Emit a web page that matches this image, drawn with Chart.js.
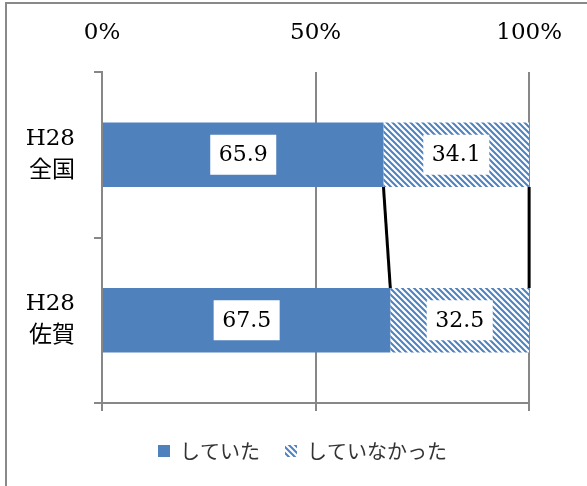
<!DOCTYPE html>
<html>
<head>
<meta charset="utf-8">
<script src="https://cdn.jsdelivr.net/npm/chart.js@4/dist/chart.umd.min.js"></script>
<style>
	body { margin: 0; background: #fff; }
	#wrap { position: relative; width: 587px; height: 486px; overflow: hidden; }
	#frame {
		position: absolute; left: 5px; top: 2px; width: 700px; height: 700px;
		border-left: 2px solid #898989; border-top: 2px solid #898989;
	}
	#myChart { position: absolute; left: 0; top: 0; }
</style>
</head>
<body>
<div id="wrap">
	<div id="frame"></div>
	<canvas id="myChart" width="587" height="486"></canvas>
</div>
<script>
const categories = [["H28", "全国"], ["H28", "佐賀"]];
const seriesNames = ["していた", "していなかった"];
const didValues = [65.9, 67.5];
const didNotValues = [34.1, 32.5];
const tickStep = 50;

const blue = "#4F81BD";
const gray = "#878787";
const serif = "'DejaVu Serif', 'Noto Sans CJK JP', serif";

const makeHatch = function () {
	const c = document.createElement("canvas");
	c.width = 6;
	c.height = 6;
	const g = c.getContext("2d");
	g.fillStyle = "#fff";
	g.fillRect(0, 0, 6, 6);
	g.strokeStyle = blue;
	g.lineWidth = 2;
	g.beginPath();
	g.moveTo(-3, 3); g.lineTo(3, 9);
	g.moveTo(0, 0); g.lineTo(6, 6);
	g.moveTo(3, -3); g.lineTo(9, 3);
	g.stroke();
	return g.createPattern(c, "repeat");
};

const barExtras = {
	id: "barExtras",
	afterDatasetsDraw(chart) {
		const ctx = chart.ctx;
		ctx.save();
		// series lines between the two bars
		ctx.strokeStyle = "#000";
		ctx.lineWidth = 3;
		chart.data.datasets.forEach(function (ds, d) {
			const els = chart.getDatasetMeta(d).data;
			const a = els[0].getProps(["x", "y", "height"], true);
			const b = els[1].getProps(["x", "y", "height"], true);
			ctx.beginPath();
			ctx.moveTo(a.x, a.y + a.height / 2);
			ctx.lineTo(b.x, b.y - b.height / 2);
			ctx.stroke();
		});
		// value labels in white boxes
		ctx.font = "22px " + serif;
		ctx.textAlign = "center";
		ctx.textBaseline = "middle";
		chart.data.datasets.forEach(function (ds, d) {
			chart.getDatasetMeta(d).data.forEach(function (el, i) {
				const p = el.getProps(["x", "y", "base"], true);
				const cx = (p.x + p.base) / 2;
				ctx.fillStyle = "#fff";
				ctx.fillRect(cx - 33, p.y - 20, 66, 40);
				ctx.fillStyle = "#000";
				ctx.fillText(ds.data[i].toFixed(1), cx, p.y + 1);
			});
		});
		ctx.restore();
	},
};

const ctx = document.getElementById("myChart").getContext("2d");
const myChart = new Chart(ctx, {
	type: "bar",
	data: {
		labels: categories,
		datasets: [
			{
				label: seriesNames[0],
				data: didValues,
				backgroundColor: blue,
				borderWidth: 0,
			},
			{
				label: seriesNames[1],
				data: didNotValues,
				backgroundColor: makeHatch(),
				borderWidth: 0,
			},
		],
	},
	options: {
		indexAxis: "y",
		responsive: false,
		animation: false,
		barPercentage: 0.39,
		categoryPercentage: 1,
		layout: { padding: { left: 18, right: 0, top: 0, bottom: 15 } },
		plugins: {
			tooltip: { enabled: false },
			legend: {
				position: "bottom",
				labels: {
					boxWidth: 12,
					boxHeight: 12,
					padding: 25,
					color: "#333",
					font: { family: "'Noto Sans CJK JP', sans-serif", size: 20 },
				},
			},
		},
		scales: {
			x: {
				position: "bottom",
				stacked: true,
				min: 0,
				max: 100,
				ticks: { display: false, stepSize: tickStep },
				grid: { color: gray, lineWidth: 2, tickLength: 8 },
				border: { color: gray, width: 2 },
				afterFit: function (axis) { axis.height = 13; },
			},
			xTop: {
				type: "linear",
				position: "top",
				min: 0,
				max: 100,
				ticks: {
					stepSize: tickStep,
					padding: 25,
					color: "#000",
					font: { family: serif, size: 23 },
					callback: function (v) { return v + "%"; },
				},
				grid: { display: false, drawTicks: false },
				border: { display: false },
				afterFit: function (axis) { axis.height = 72; },
			},
			y: {
				stacked: true,
				ticks: {
					padding: 19,
					color: "#000",
					font: { family: serif, size: 23, lineHeight: 1.4 },
				},
				grid: { drawOnChartArea: false, color: gray, lineWidth: 2, tickLength: 8 },
				border: { color: gray, width: 2 },
				afterFit: function (axis) { axis.width = 84; },
			},
			yRight: {
				type: "linear",
				position: "right",
				min: 0,
				max: 1,
				ticks: { display: false },
				grid: { display: false, drawTicks: false },
				border: { display: false },
				afterFit: function (axis) { axis.width = 57; },
			},
		},
	},
	plugins: [barExtras],
});
</script>
</body>
</html>
